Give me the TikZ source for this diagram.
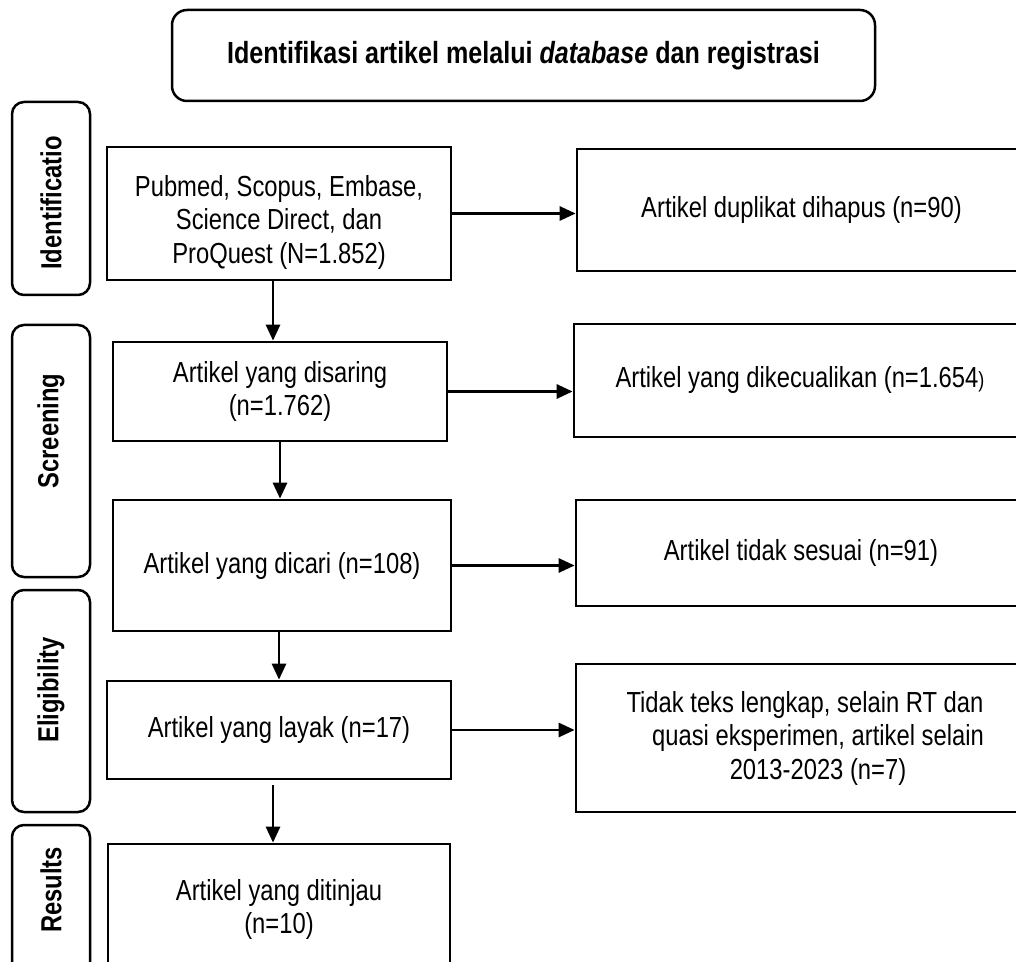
\documentclass[tikz,border=0pt]{standalone}
\usepackage{fontspec}
\setmainfont{Liberation Sans}[FakeStretch=0.82]
\usetikzlibrary{arrows.meta, positioning}

\begin{document}
\begin{tikzpicture}[
		x=0.5pt, y=-0.5pt,
		every node/.style={font=\fontsize{14.5}{16.75}\selectfont},
		block/.style={
			rectangle,
			draw,
			line width=1.35pt,
			align=center,
			inner sep=0pt
		},
		phase/.style={
			rectangle,
			draw,
			rounded corners=6pt,
			line width=1.25pt,
			minimum width=39pt,
			inner sep=0pt
		},
		phaselabel/.style={
			rotate=90,
			font=\bfseries\fontsize{14.5}{16.75}\selectfont
		},
		header/.style={
			rectangle,
			draw,
			rounded corners=7.5pt,
			line width=1.25pt,
			minimum width=351.5pt,
			minimum height=45.5pt,
			font=\bfseries\fontsize{15.3}{18}\selectfont
		},
		arrow/.style={
			-{Triangle[length=8pt,width=7pt]},
			line width=1.4pt
		}
		]
		
		\useasboundingbox (0,0) rectangle (1016,962);
		\clip (0,0) rectangle (1016,962);
		
		% Header
		\node[header] (title) at (523.5,55.5) {Identifikasi artikel melalui \textit{database} dan registrasi};
		
		% Phases
		\node[phase, minimum height=96.5pt] (idBox) at (51,198.5) {};
		\node[phaselabel] (idLbl) at (51,203) {Identificatio};
		
		\node[phase, minimum height=126pt] (scBox) at (51,451) {};
		\node[phaselabel] (scLbl) at (51,431) {Screening};
		
		\node[phase, minimum height=111pt] (elBox) at (51,701) {};
		\node[phaselabel] (elLbl) at (51,690) {Eligibility};
		
		\node[phase, minimum height=80pt] (reBox) at (51,905) {};
		\node[phaselabel] (reLbl) at (51,890) {Results};
		
		% Nodes (main flow)
		\node[block, minimum width=172pt, minimum height=66.5pt] (src) at (279,213.5) {\rule{0pt}{19.5pt}Pubmed, Scopus, Embase,\\ Science Direct, dan\\ ProQuest (N=1.852)};
		
		\node[block, minimum width=167pt, minimum height=49.5pt] (scr) at (280,391.5) {Artikel yang disaring\\ (n=1.762)};
		
		\node[block, minimum width=169pt, minimum height=65.5pt] (sought) at (282,565.5) {Artikel yang dicari (n=108)};
		
		\node[block, minimum width=172pt, minimum height=49pt] (elig) at (279,730) {Artikel yang layak (n=17)};
		
		\node[block, minimum width=171pt, minimum height=65.5pt] (incl) at (279,909.5) {Artikel yang ditinjau\\ (n=10)};
		
		% Nodes (excluded)
		\node[block, minimum width=224.5pt, minimum height=61pt] (dup) at (801.5,210) {Artikel duplikat dihapus (n=90)};
		
		\node[block, minimum width=226pt, minimum height=56.5pt] (excl) at (800,380.5) {Artikel yang dikecualikan (n=1.654{\fontsize{11}{13}\selectfont )}};
		
		\node[block, minimum width=225pt, minimum height=53pt] (unfit) at (801,553) {Artikel tidak sesuai (n=91)};
		
		\node[block, minimum width=225pt, minimum height=74pt] (rej) at (801,738) {\hspace*{4pt}Tidak teks lengkap, selain RT dan\\ \hspace*{17pt}quasi eksperimen, artikel selain\\ \hspace*{17pt}2013-2023 (n=7)};
		
		% Arrows (main flow)
		\draw[arrow] ([xshift=-3pt]src.south) -- ([xshift=-3pt]src.south |- scr.north);
		\draw[arrow] (scr.south) -- (scr.south |- sought.north);
		\draw[arrow] ([xshift=-1.5pt]sought.south) -- ([xshift=-1.5pt]sought.south |- elig.north);
		\draw[arrow, shorten <=2.5pt] ([xshift=-3pt]elig.south) -- ([xshift=-3pt]elig.south |- incl.north);
		
		% Arrows (excluded)
		\draw[arrow] (src.east) -- (src.east -| dup.west);
		\draw[arrow] (scr.east) -- (scr.east -| excl.west);
		\draw[arrow] (sought.east) -- (sought.east -| unfit.west);
		\draw[arrow] (elig.east) -- (elig.east -| rej.west);
		
	\end{tikzpicture}
\end{document}
